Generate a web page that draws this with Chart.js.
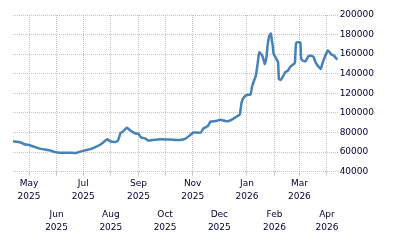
<!DOCTYPE html>
<html>
<head>
<meta charset="utf-8">
<script src="https://cdn.jsdelivr.net/npm/chart.js@4.4.1/dist/chart.umd.min.js"></script>
<style>
  html, body { margin: 0; padding: 0; background: #fff; }
  #wrap { width: 400px; height: 250px; position: relative; }
</style>
</head>
<body>
<div id="wrap"><canvas id="chart"></canvas></div>
<script>
// --- data ---
const dates = [
  '2025-04-13','2025-04-21','2025-04-26','2025-05-02','2025-05-08','2025-05-13','2025-05-19','2025-05-25',
  '2025-05-30','2025-06-05','2025-06-16','2025-06-23','2025-06-27','2025-07-03','2025-07-09','2025-07-14',
  '2025-07-20','2025-07-26','2025-07-28','2025-07-31','2025-08-06','2025-08-09','2025-08-12','2025-08-15',
  '2025-08-19','2025-08-23','2025-08-28','2025-09-01','2025-09-04','2025-09-09','2025-09-12','2025-09-17',
  '2025-09-26','2025-10-07','2025-10-18','2025-10-24','2025-10-30','2025-11-02','2025-11-10','2025-11-13',
  '2025-11-18','2025-11-21','2025-11-27','2025-12-02','2025-12-08','2025-12-11','2025-12-16','2025-12-21',
  '2025-12-24','2025-12-26','2025-12-29','2026-01-02','2026-01-05','2026-01-07','2026-01-11','2026-01-13',
  '2026-01-14','2026-01-15','2026-01-18','2026-01-20','2026-01-21','2026-01-23','2026-01-24','2026-01-25',
  '2026-01-26','2026-01-28','2026-01-29','2026-01-30','2026-01-31','2026-02-03','2026-02-05','2026-02-06',
  '2026-02-08','2026-02-10','2026-02-13','2026-02-16','2026-02-19','2026-02-23','2026-02-24','2026-02-25',
  '2026-02-26','2026-03-02','2026-03-03','2026-03-06','2026-03-08','2026-03-11','2026-03-14','2026-03-17',
  '2026-03-19','2026-03-23','2026-03-25','2026-03-27','2026-03-31','2026-04-02','2026-04-06','2026-04-09',
  '2026-04-12','2026-04-13'
];
const prices = [
  71000, 70000, 68000, 67000, 65000, 63500, 62500, 61500,
  60000, 59300, 59300, 59000, 60300, 61700, 63000, 64800,
  67500, 71700, 73000, 71000, 70300, 71700, 79500, 81300,
  84700, 82000, 79200, 78500, 75000, 73700, 71700, 72300,
  73000, 72700, 72300, 73700, 77900, 80000, 79800, 84000,
  86500, 91000, 91600, 93000, 91600, 91600, 93700, 96500,
  98500, 110500, 116400, 118500, 118500, 127700, 138000, 150000,
  157000, 162000, 158700, 153500, 150000, 157000, 167300, 173500,
  178300, 181000, 174000, 169000, 160500, 155300, 151800, 134600,
  133600, 136300, 141500, 143200, 147400, 150000, 151500, 169000,
  172000, 172000, 155300, 152800, 152800, 157700, 158400, 157000,
  151800, 146600, 145000, 150800, 160500, 163800, 159700, 158400,
  155000, 156500
];
const monthTicks = ['2025-05-01','2025-06-01','2025-07-01','2025-08-01','2025-09-01','2025-10-01',
  '2025-11-01','2025-12-01','2026-01-01','2026-02-01','2026-03-01','2026-04-01'];
const monthNames = ['Jan','Feb','Mar','Apr','May','Jun','Jul','Aug','Sep','Oct','Nov','Dec'];
const yTicks = [40000, 60000, 80000, 100000, 120000, 140000, 160000, 180000, 200000];

const TEXT = '#000033';
const GRID = '#c4c4c4';

// days since 2025-05-01
function dayNum(s){
  const [y, m, d] = s.split('-').map(Number);
  return (Date.UTC(y, m - 1, d) - Date.UTC(2025, 4, 1)) / 86400000;
}

const points = dates.map((d, i) => ({ x: dayNum(d), y: prices[i] }));
const tickDays = monthTicks.map(dayNum);

function tickLabel(v){
  const i = tickDays.indexOf(v);
  if (i < 0) return '';
  const [y, m] = monthTicks[i].split('-').map(Number);
  const name = monthNames[m - 1];
  // alternate rows: even ticks on the upper row, odd ticks on the lower one
  if (i % 2 === 0) return [name, '', '', String(y)];
  return ['', '', '', '', '', '', '', name, '', '', String(y)];
}

const ctx = document.getElementById('chart');
// eslint-disable-next-line no-undef
new Chart(ctx.getContext('2d'), {
  type: 'line',
  data: {
    datasets: [{
      data: points,
      borderColor: '#4682b8',
      borderWidth: 2.5,
      pointRadius: 0,
      tension: 0.15,
      fill: false
    }]
  },
  options: {
    responsive: true,
    maintainAspectRatio: false,
    animation: false,
    layout: { padding: { left: 13, right: 24, top: 15, bottom: 14 } },
    plugins: { legend: { display: false }, tooltip: { enabled: false } },
    scales: {
      x: {
        type: 'linear',
        min: dayNum('2025-04-13'),
        max: dayNum('2026-04-13'),
        afterBuildTicks: axis => { axis.ticks = tickDays.map(v => ({ value: v })); },
        grid: { color: GRID, tickLength: 4, drawTicks: true },
        border: { display: false, dash: [1, 1] },
        ticks: {
          autoSkip: false, maxRotation: 0, padding: 6,
          color: TEXT,
          font: { family: 'DejaVu Sans', size: 9, lineHeight: '4.4px' },
          callback: v => tickLabel(v)
        }
      },
      y: {
        position: 'right',
        min: 40000,
        max: 200000,
        afterBuildTicks: axis => { axis.ticks = yTicks.map(v => ({ value: v })); },
        grid: { color: GRID, drawTicks: false },
        border: { display: false, dash: [1, 1] },
        ticks: {
          padding: 2,
          color: TEXT,
          font: { family: 'DejaVu Sans', size: 9 },
          callback: v => String(v)
        }
      }
    }
  }
});
</script>
</body>
</html>
